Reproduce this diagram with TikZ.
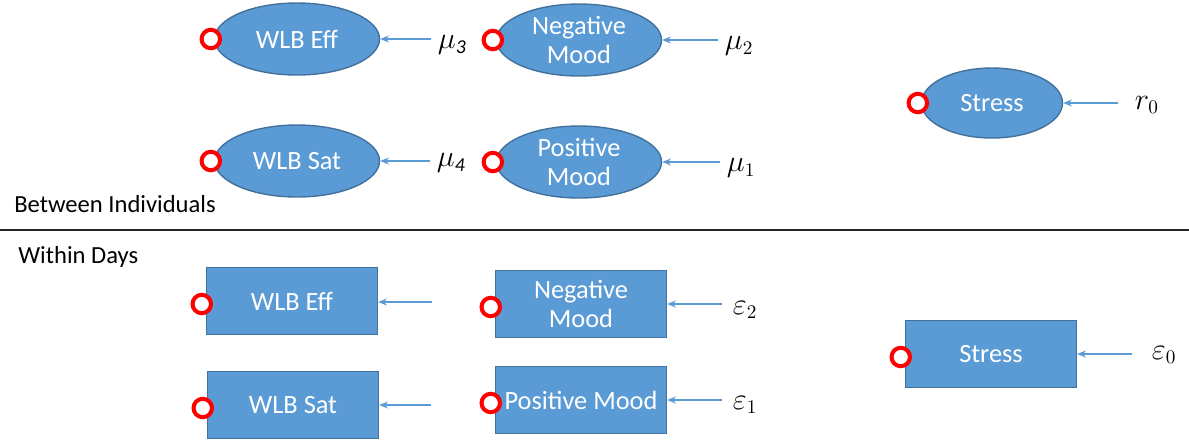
\documentclass[tikz,border=0pt]{standalone}
\usepackage{fontspec}
\setmainfont{Carlito}
\usetikzlibrary{shapes.geometric, arrows.meta, positioning}
\definecolor{boxfill}{HTML}{5B9BD5}
\definecolor{boxline}{HTML}{41719C}
\definecolor{arrowblue}{HTML}{5B9BD5}
\definecolor{ringred}{HTML}{FF0000}
\tikzset{
  latent/.style={ellipse, draw=boxline, fill=boxfill, line width=0.8pt, text=white,
                 minimum width=3.3cm, minimum height=1.44cm, inner sep=0pt, align=center,
                 font=\fontsize{15}{16}\selectfont},
  observed/.style={rectangle, draw=boxline, fill=boxfill, line width=0.8pt, text=white,
                   minimum width=3.42cm, minimum height=1.34cm, inner sep=0pt, align=center,
                   font=\fontsize{15}{16}\selectfont},
  ring/.style={circle, draw=ringred, fill=white, line width=2.3pt, minimum size=10.5pt, inner sep=0pt},
  errlabel/.style={anchor=west, inner sep=2pt, font=\fontsize{16}{18}\selectfont},
  levellabel/.style={anchor=west, inner sep=0pt, font=\fontsize{14}{16}\selectfont},
  arr/.style={draw=arrowblue, line width=0.6pt, -{Stealth[length=5pt, width=4pt]}}
}
\begin{document}
\begin{tikzpicture}[x=0.02cm, y=-0.02cm]
  \useasboundingbox (0,0) rectangle (1189,441);
  % between individuals
  \node[latent] (weB) at (297,39) {WLB Eff};
  \node[latent] (wsB) at (297,161) {WLB Sat};
  \node[latent] (nmB) at (579,40) {Negative\\Mood};
  \node[latent] (pmB) at (579,162) {Positive\\Mood};
  \node[latent, minimum width=2.82cm, minimum height=1.4cm] (stB) at (992,103) {Stress};
  \node[errlabel] (mu3) at (434,45) {$\mu_{\mathit{3}}$};
  \node[errlabel] (mu4) at (433,163) {$\mu_{\mathit{4}}$};
  \node[errlabel] (mu2) at (721,46) {$\mu_2$};
  \node[errlabel] (mu1) at (723,168) {$\mu_1$};
  \node[errlabel] (r0) at (1131,105) {$r_0$};
  \node[levellabel] (between) at (14,204) {Between Individuals};
  % divider
  \coordinate (divL) at (0,230);
  \coordinate (divR) at (1189,230);
  \draw[line width=0.9pt, black!85] (divL) -- (divR);
  % within days
  \node[levellabel] (within) at (18,257) {Within Days};
  \node[observed] (weW) at (292,301) {WLB Eff};
  \node[observed] (wsW) at (293,405) {WLB Sat};
  \node[observed] (nmW) at (581,304) {Negative\\Mood};
  \node[observed] (pmW) at (581,400) {Positive Mood};
  \node[observed] (stW) at (991,354) {Stress};
  \node[errlabel] (eps2) at (729,310) {$\varepsilon_2$};
  \node[errlabel] (eps1) at (729,405) {$\varepsilon_1$};
  \node[errlabel] (eps0) at (1148,355) {$\varepsilon_0$};
  \coordinate (weIn) at (432,302);
  \coordinate (wsIn) at (431,405);
  % arrows
  \draw[arr, shorten <=1.5pt] (weB.east -| mu3.west) -- (weB.east);
  \draw[arr, shorten <=1.5pt] (wsB.east -| mu4.west) -- (wsB.east);
  \draw[arr, shorten <=1.5pt] (nmB.east -| mu2.west) -- (nmB.east);
  \draw[arr, shorten <=1.5pt] (pmB.east -| mu1.west) -- (pmB.east);
  \draw[arr, shorten <=7.4pt] (stB.east -| r0.west) -- (stB.east);
  \draw[arr] (weIn) -- (weW.east |- weIn);
  \draw[arr] (wsIn) -- (wsW.east |- wsIn);
  \draw[arr, shorten <=4pt] (nmW.east -| eps2.west) -- (nmW.east);
  \draw[arr, shorten <=4pt] (pmW.east -| eps1.west) -- (pmW.east);
  \draw[arr, shorten <=9pt] (stW.east -| eps0.west) -- (stW.east);
  % red rings
  \foreach \nd in {weB, wsB, nmB, pmB, stB}
    \node[ring] (ring-\nd) at ([xshift=-1.7pt]\nd.west) {};
  \foreach \nd in {weW, wsW, nmW, pmW, stW}
    \node[ring] (ring-\nd) at ([xshift=-2.3pt, yshift=-1.7pt]\nd.west) {};
\end{tikzpicture}
\end{document}
